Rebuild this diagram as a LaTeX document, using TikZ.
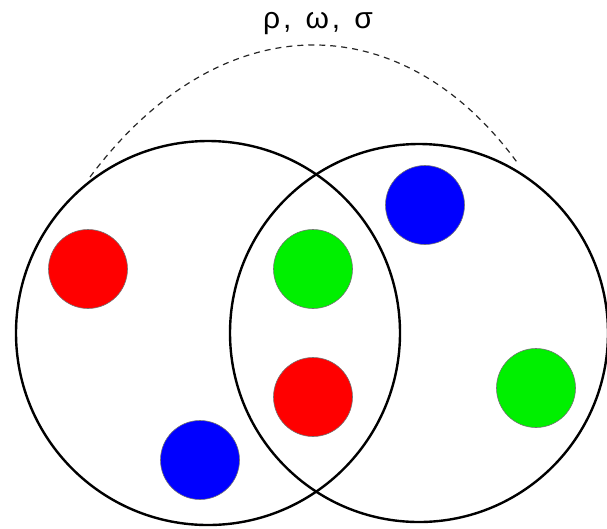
\documentclass[tikz,border=0pt]{standalone}
\usepackage{fontspec}
\setmainfont{Liberation Sans}
\definecolor{ballgreen}{RGB}{0,240,0}
\begin{document}
\begin{tikzpicture}[x=1pt,y=-1pt,
  bigring/.style={circle,draw=black,line width=2.4pt,inner sep=0pt,minimum size=#1},
  ball/.style={circle,fill=#1,draw=black!55,line width=0.6pt,inner sep=0pt,minimum size=79pt},
  link/.style={line width=1.2pt,dash pattern=on 6pt off 5pt,draw=black!85}]
\useasboundingbox (0,0) rectangle (607,528);
\node[bigring=384pt] (L) at (208,333) {};
\node[bigring=378pt] (R) at (419,333) {};
\node[ball=red] (r1) at (88,269) {};
\node[ball=ballgreen] (g1) at (313,269) {};
\node[ball=blue] (b1) at (425,205) {};
\node[ball=red] (r2) at (313,397) {};
\node[ball=ballgreen] (g2) at (536,388) {};
\node[ball=blue] (b2) at (200,460) {};
\coordinate (aL) at (90,177);
\coordinate (aR) at (519,165);
\draw[link] (aL) .. controls (221,2) and (403,4) .. (aR);
\node[font=\fontsize{30pt}{34pt}\selectfont] (lab) at (318,24) {ρ\hspace{3pt},\hspace{14pt}ω\hspace{3pt},\hspace{14pt}σ};
\end{tikzpicture}
\end{document}
